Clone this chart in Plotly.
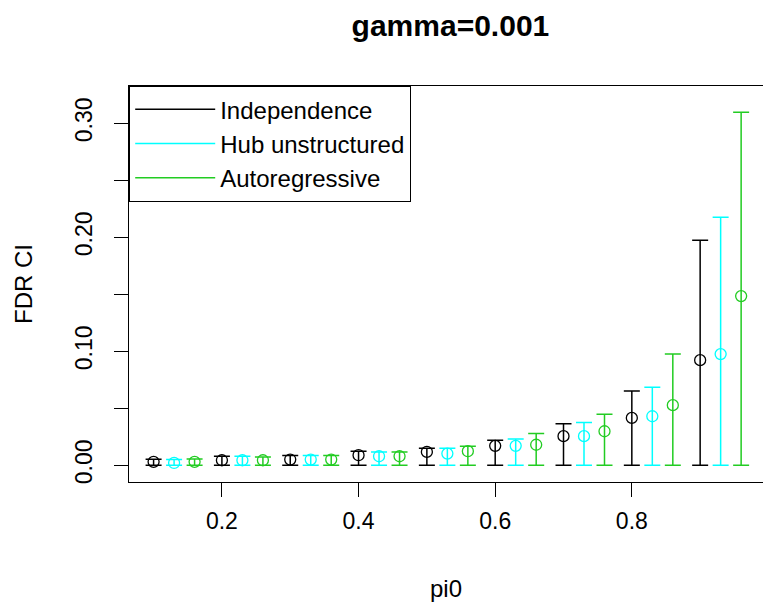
import plotly.graph_objects as go

# ---- data ----
pi0 = [0.1, 0.2, 0.3, 0.4, 0.5, 0.6, 0.7, 0.8, 0.9]
series_names = ["Independence", "Hub unstructured", "Autoregressive"]
series_offsets = [0.0, 0.03, 0.06]

ind_est = [0.003, 0.0044, 0.005, 0.0088, 0.0117, 0.017, 0.0255, 0.0415, 0.0922]
ind_upper = [0.0053, 0.0079, 0.0085, 0.0123, 0.0149, 0.022, 0.0363, 0.0652, 0.1973]
ind_lower = [0, 0, 0, 0, 0, 0, 0, 0, 0]

hub_est = [0.002, 0.0044, 0.005, 0.0079, 0.0102, 0.017, 0.0255, 0.043, 0.0975]
hub_upper = [0.005, 0.0079, 0.0085, 0.0117, 0.0149, 0.023, 0.0375, 0.0685, 0.2175]
hub_lower = [0, 0, 0, 0, 0, 0, 0, 0, 0]

ar_est = [0.003, 0.0044, 0.005, 0.0079, 0.0123, 0.018, 0.0298, 0.0527, 0.1484]
ar_upper = [0.0055, 0.0073, 0.0085, 0.0117, 0.0167, 0.0278, 0.0448, 0.0975, 0.3096]
ar_lower = [0, 0, 0, 0, 0, 0, 0, 0, 0]

x_tickvals = [0.2, 0.4, 0.6, 0.8]
x_ticktext = ["0.2", "0.4", "0.6", "0.8"]
y_tickvals = [0.0, 0.05, 0.10, 0.15, 0.20, 0.25, 0.30]
y_ticktext = ["0.00", "", "0.10", "", "0.20", "", "0.30"]

colors = ["#000000", "#00FFFF", "#22CC22"]
FONT = "Liberation Sans, Arial, sans-serif"

fig = go.Figure()
all_est = [ind_est, hub_est, ar_est]
all_up = [ind_upper, hub_upper, ar_upper]
all_lo = [ind_lower, hub_lower, ar_lower]

for name, off, est, up, lo, col in zip(series_names, series_offsets, all_est, all_up, all_lo, colors):
    xs = [p + off for p in pi0]
    fig.add_trace(go.Scatter(
        x=xs, y=est, mode="markers", name=name, showlegend=False,
        marker=dict(symbol="circle-open", size=11, color=col, line=dict(width=1.3, color=col)),
        error_y=dict(type="data", symmetric=False,
                     array=[u - e for u, e in zip(up, est)],
                     arrayminus=[e - l for e, l in zip(est, lo)],
                     color=col, thickness=1.5, width=8),
    ))
    # legend entry
    fig.add_trace(go.Scatter(
        x=[None], y=[None], mode="lines", name=name,
        line=dict(color=col, width=1.6),
    ))

fig.update_layout(
    width=763, height=602,
    margin=dict(l=129, r=0, t=86, b=120),
    paper_bgcolor="white", plot_bgcolor="white",
    font=dict(family=FONT, color="black", size=23),
    title=dict(text="<b>gamma=0.001</b>", xref="paper", x=0.507, xanchor="center",
               y=0.958, yanchor="middle",
               font=dict(size=30, family=FONT, color="black")),
    showlegend=True,
    legend=dict(x=0, y=1, xanchor="left", yanchor="top",
                bordercolor="black", borderwidth=1.2, bgcolor="white",
                font=dict(size=24, family=FONT, color="black"),
                tracegroupgap=0, itemwidth=80),
)

fig.update_xaxes(
    range=[0.064, 0.992], showgrid=False, zeroline=False,
    showline=True, linecolor="black", linewidth=1.2, mirror=True,
    ticks="outside", ticklen=14, tickwidth=1.2, tickcolor="black",
    tickvals=x_tickvals, ticktext=x_ticktext, ticklabelstandoff=4,
    title=dict(text="pi0", standoff=48, font=dict(size=24)),
)
fig.update_yaxes(
    range=[-0.0147, 0.3327], showgrid=False, zeroline=False,
    showline=True, linecolor="black", linewidth=1.2, mirror=False,
    ticks="outside", ticklen=14, tickwidth=1.2, tickcolor="black",
    tickvals=y_tickvals, ticktext=y_ticktext, tickangle=-90, ticklabelstandoff=13,
    title=dict(text="FDR CI", standoff=31, font=dict(size=24)),
)

fig.write_html("out.html", config={"displayModeBar": False},
               post_script="document.body.style.margin='0';")
